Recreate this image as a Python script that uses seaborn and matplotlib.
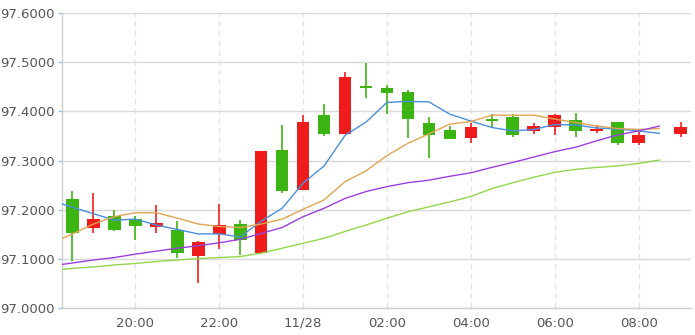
import numpy as np
import pandas as pd
import matplotlib
matplotlib.use("Agg")
import matplotlib.pyplot as plt
import seaborn as sns

nan = np.nan

times = ["18:00", "18:30", "19:00", "19:30", "20:00", "20:30", "21:00", "21:30",
         "22:00", "22:30", "23:00", "23:30", "00:00", "00:30", "01:00", "01:30",
         "02:00", "02:30", "03:00", "03:30", "04:00", "04:30", "05:00", "05:30",
         "06:00", "06:30", "07:00", "07:30", "08:00", "08:30", "09:00"]

opens = [nan, 97.222, 97.164, 97.187, 97.181, 97.166, 97.159, 97.107, 97.150, 97.171,
         97.113, 97.321, 97.241, 97.392, 97.354, 97.451, 97.447, 97.439, 97.376, 97.361,
         97.346, 97.384, 97.388, 97.360, 97.368, 97.382, 97.360, 97.378, 97.336, nan, 97.354]
closes = [nan, 97.152, 97.181, 97.159, 97.168, 97.173, 97.112, 97.134, 97.169, 97.139,
          97.320, 97.239, 97.378, 97.354, 97.469, 97.447, 97.437, 97.385, 97.351, 97.343,
          97.368, 97.381, 97.352, 97.370, 97.392, 97.360, 97.364, 97.336, 97.352, nan, 97.368]
highs = [nan, 97.238, 97.234, 97.199, 97.187, 97.210, 97.177, 97.137, 97.212, 97.179,
         97.320, 97.372, 97.392, 97.415, 97.479, 97.498, 97.453, 97.443, 97.388, 97.370,
         97.376, 97.394, 97.394, 97.376, 97.394, 97.396, 97.372, 97.378, 97.358, nan, 97.378]
lows = [nan, 97.097, 97.153, 97.157, 97.139, 97.153, 97.103, 97.052, 97.120, 97.108,
        97.110, 97.234, 97.241, 97.350, 97.354, 97.427, 97.394, 97.346, 97.306, 97.343,
        97.336, 97.368, 97.348, 97.354, 97.352, 97.348, 97.356, 97.332, 97.332, nan, 97.348]

ma5 = [97.219, 97.205, 97.192, 97.179, 97.181, 97.169, 97.160, 97.151, 97.151, 97.145,
       97.177, 97.203, 97.254, 97.289, 97.351, 97.378, 97.418, 97.420, 97.419, 97.394,
       97.380, 97.367, 97.360, 97.363, 97.373, 97.372, 97.366, 97.364, 97.360, 97.355, nan]
ma10 = [97.132, 97.151, 97.171, 97.186, 97.194, 97.194, 97.183, 97.171, 97.166, 97.164,
        97.171, 97.181, 97.201, 97.220, 97.257, 97.279, 97.310, 97.335, 97.354, 97.374,
        97.379, 97.392, 97.392, 97.392, 97.384, 97.377, 97.370, 97.365, 97.363, 97.365, nan]
ma20 = [97.086, 97.092, 97.098, 97.103, 97.110, 97.116, 97.122, 97.127, 97.133, 97.140,
        97.152, 97.164, 97.186, 97.203, 97.223, 97.237, 97.247, 97.255, 97.260, 97.268,
        97.275, 97.286, 97.296, 97.307, 97.318, 97.327, 97.340, 97.352, 97.360, 97.370, nan]
ma30 = [97.077, 97.081, 97.084, 97.088, 97.091, 97.095, 97.098, 97.101, 97.103, 97.105,
        97.112, 97.122, 97.132, 97.142, 97.156, 97.169, 97.183, 97.196, 97.206, 97.216,
        97.227, 97.243, 97.255, 97.266, 97.276, 97.282, 97.286, 97.289, 97.294, 97.301, nan]

tick_labels = ["20:00", "22:00", "11/28", "02:00", "04:00", "06:00", "08:00"]
y_ticks = [97.0, 97.1, 97.2, 97.3, 97.4, 97.5, 97.6]

df = pd.DataFrame({"time": times, "open": opens, "close": closes, "high": highs,
                   "low": lows, "ma5": ma5, "ma10": ma10, "ma20": ma20, "ma30": ma30})
df["pos"] = np.arange(len(df))

sns.set_theme(style="white")
plt.rcParams["font.family"] = ["DejaVu Sans"]

fig = plt.figure(figsize=(6.95, 3.35), dpi=100)
ax = fig.add_axes([62 / 695, 1 - 308.3 / 335, (691 - 62) / 695, (308.3 - 12.7) / 335])

RED = "#f01c1c"
GREEN = "#3cb412"

# grid
for y in y_ticks:
    ax.axhline(y, color="#d9d9d9", lw=1.0, zorder=0)
tick_pos = [df.index[df["time"] == t][0] if t != "11/28" else df.index[df["time"] == "00:00"][0]
            for t in tick_labels]
for p in tick_pos:
    ax.axvline(p, color="#e2e2e2", lw=1.0, ls=(0, (4, 3)), zorder=0)

# candles
cd = df.dropna(subset=["open"])
up = cd["close"] >= cd["open"]
colors = np.where(up, RED, GREEN)
ax.vlines(cd["pos"], cd["low"], cd["high"], colors=colors, lw=1.2, zorder=2)
body_lo = np.minimum(cd["open"], cd["close"])
body_h = np.maximum(np.abs(cd["close"] - cd["open"]), 0.0025)
ax.bar(cd["pos"], body_h, bottom=body_lo, width=0.6, color=colors, zorder=3, linewidth=0)

# moving averages
for col, c in [("ma5", "#4a8fde"), ("ma10", "#e0a452"), ("ma20", "#9b3fe0"), ("ma30", "#92d64a")]:
    sns.lineplot(data=df, x="pos", y=col, ax=ax, color=c, lw=1.0, zorder=4, legend=False)

ax.set_xlim(0.5, 30.5)
ax.set_ylim(97.0, 97.6)
ax.set_yticks(y_ticks)
ax.set_yticklabels([f"{v:.4f}" for v in y_ticks])
ax.set_xticks(tick_pos)
ax.set_xticklabels(tick_labels)
ax.set_xlabel("")
ax.set_ylabel("")

for s in ["top", "right"]:
    ax.spines[s].set_visible(False)
ax.spines["left"].set_color("#cccccc")
ax.spines["bottom"].set_color("#cccccc")
ax.spines["left"].set_linewidth(1.0)
ax.spines["bottom"].set_linewidth(1.0)

ax.tick_params(axis="y", length=3, width=1, color="#9cc3ea", labelcolor="#555555",
               labelsize=9.5, pad=2, left=True)
ax.tick_params(axis="x", length=0, labelcolor="#555555", labelsize=9.5, pad=6)

fig.savefig("out.png", dpi=100)
